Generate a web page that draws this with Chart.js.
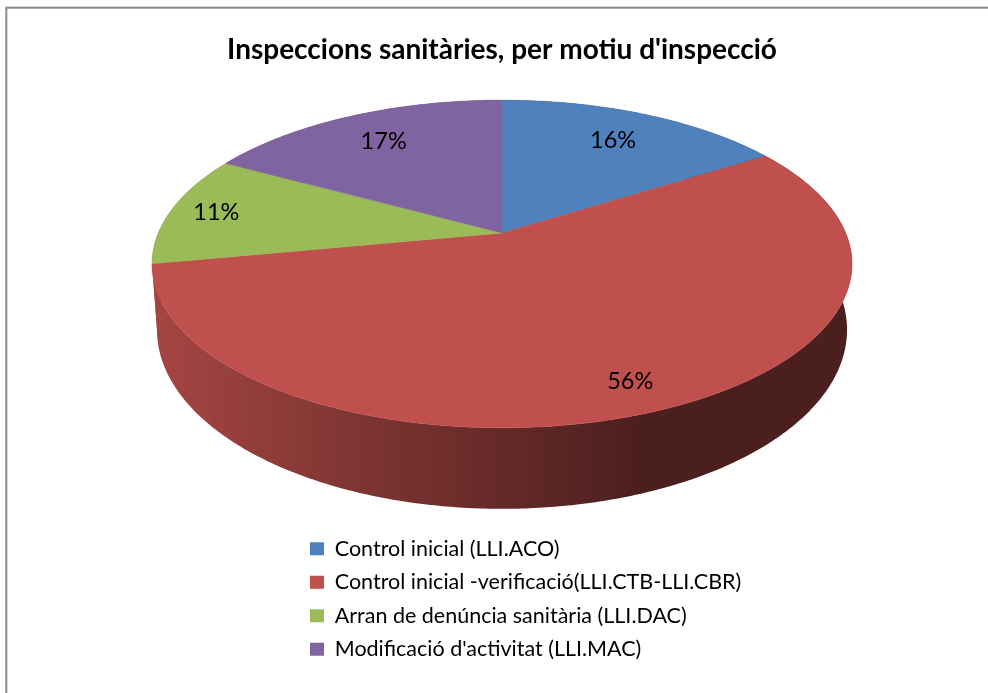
<!DOCTYPE html>
<html>
<head>
<meta charset="utf-8">
<title>Inspeccions sanitàries</title>
<style>
  html, body { margin: 0; padding: 0; background: #fff; overflow: hidden; }
  canvas { display: block; }
</style>
<script src="https://cdn.jsdelivr.net/npm/chart.js"></script>
</head>
<body>
<canvas id="pieChart" width="988" height="693"></canvas>
<script>
// Chart values
const chartTitle = "Inspeccions sanitàries, per motiu d'inspecció";
const categories = [
  'Control inicial (LLI.ACO)',
  'Control inicial -verificació(LLI.CTB-LLI.CBR)',
  'Arran de denúncia sanitària (LLI.DAC)',
  "Modificació d'activitat (LLI.MAC)"
];
const percentages = [16, 56, 11, 17];
const sliceColors = ['#4F81BD', '#C0504D', '#9BBB59', '#8064A2'];
// The only wall you can see in the reference is the red one
const wallColor = '#C0504D';

// Perspective of the tilted disc: top face and bottom face of the cylinder
const perspective = 0.189;
const centerX = 502;
const topFace = { a: 343.7, b: 158, y0: 233 };
const baseFace = { a: 338.8, b: 172.6, y0: 296 };
// How far out along the radius each percent label sits
const labelRadius = [0.755, 0.86, 0.863, 0.76];

function project(angle, radius, face) {
  const u = Math.cos(angle) * radius;
  const v = -Math.sin(angle) * radius;
  const w = 1 + perspective * v;
  return { x: centerX + face.a * u / w, y: face.y0 - face.b * v / w };
}

function rimPoints(arc, face) {
  const pts = [];
  const steps = Math.max(2, Math.ceil((arc.endAngle - arc.startAngle) / 0.01));
  for (let i = 0; i <= steps; i++) {
    pts.push(project(arc.startAngle + (arc.endAngle - arc.startAngle) * i / steps, 1, face));
  }
  return pts;
}

function tracePath(ctx, pts) {
  ctx.beginPath();
  pts.forEach((p, i) => (i ? ctx.lineTo(p.x, p.y) : ctx.moveTo(p.x, p.y)));
  ctx.closePath();
}

function rgbOf(hex) {
  return [1, 3, 5].map(i => parseInt(hex.substr(i, 2), 16));
}

// Side wall goes darker from left to right
function wallGradient(ctx, hex) {
  const c = rgbOf(hex);
  const shade = f => 'rgb(' + c.map(v => Math.round(v * f)).join(',') + ')';
  const g = ctx.createLinearGradient(155, 0, 640, 0);
  g.addColorStop(0, shade(0.86));
  g.addColorStop(0.57, shade(0.59));
  g.addColorStop(1, shade(0.39));
  return g;
}

const framePlugin = {
  id: 'frame',
  beforeDraw(chart) {
    const ctx = chart.ctx;
    ctx.save();
    ctx.strokeStyle = '#8a8a8a';
    ctx.lineWidth = 2;
    ctx.strokeRect(6.3, 7.7, 1200, 1000);
    ctx.restore();
  }
};

// Chart.js only draws flat circles, so the arcs it computed are drawn here in perspective
const pie3dPlugin = {
  id: 'pie3d',
  afterLayout(chart) {
    const title = chart.titleBlock;
    title.left = 0; title.right = 1004;
    title.top = 33; title.bottom = 67;
    const legend = chart.legend;
    const h = legend.bottom - legend.top, w = legend.right - legend.left;
    legend.left = 298; legend.right = 298 + w;
    legend.top = 526; legend.bottom = 526 + h;
  },
  beforeDatasetDraw(chart, args) {
    const ctx = chart.ctx;
    const arcs = chart.getDatasetMeta(args.index).data;
    ctx.save();
    arcs.forEach(arc => {
      const pts = rimPoints(arc, topFace).concat(rimPoints(arc, baseFace).reverse());
      tracePath(ctx, pts);
      ctx.fillStyle = wallGradient(ctx, wallColor);
      ctx.fill();
    });
    const apex = project(0, 0, topFace);
    arcs.forEach((arc, i) => {
      tracePath(ctx, [apex].concat(rimPoints(arc, topFace)));
      ctx.fillStyle = sliceColors[i];
      ctx.strokeStyle = sliceColors[i];
      ctx.lineWidth = 0.5;
      ctx.fill();
      ctx.stroke();
    });
    ctx.fillStyle = '#000';
    ctx.font = '23.5px Lato';
    ctx.textAlign = 'center';
    ctx.textBaseline = 'middle';
    arcs.forEach((arc, i) => {
      const p = project((arc.startAngle + arc.endAngle) / 2, labelRadius[i], topFace);
      ctx.fillText(percentages[i] + '%', p.x, p.y);
    });
    ctx.restore();
    return false;
  }
};

new Chart(document.getElementById('pieChart'), {
  type: 'pie',
  data: {
    labels: categories,
    datasets: [{
      data: percentages,
      backgroundColor: sliceColors,
      borderWidth: 0
    }]
  },
  options: {
    responsive: false,
    animation: false,
    plugins: {
      title: {
        display: true,
        text: chartTitle,
        color: '#000',
        padding: 0,
        font: { family: 'Lato', size: 28, weight: 'bold', lineHeight: 1.2 }
      },
      legend: {
        position: 'left',
        align: 'start',
        labels: {
          boxWidth: 14,
          boxHeight: 13,
          padding: 12,
          color: '#000',
          font: { family: 'Lato', size: 21.5 }
        }
      },
      tooltip: { enabled: false }
    }
  },
  plugins: [framePlugin, pie3dPlugin]
});
</script>
</body>
</html>
